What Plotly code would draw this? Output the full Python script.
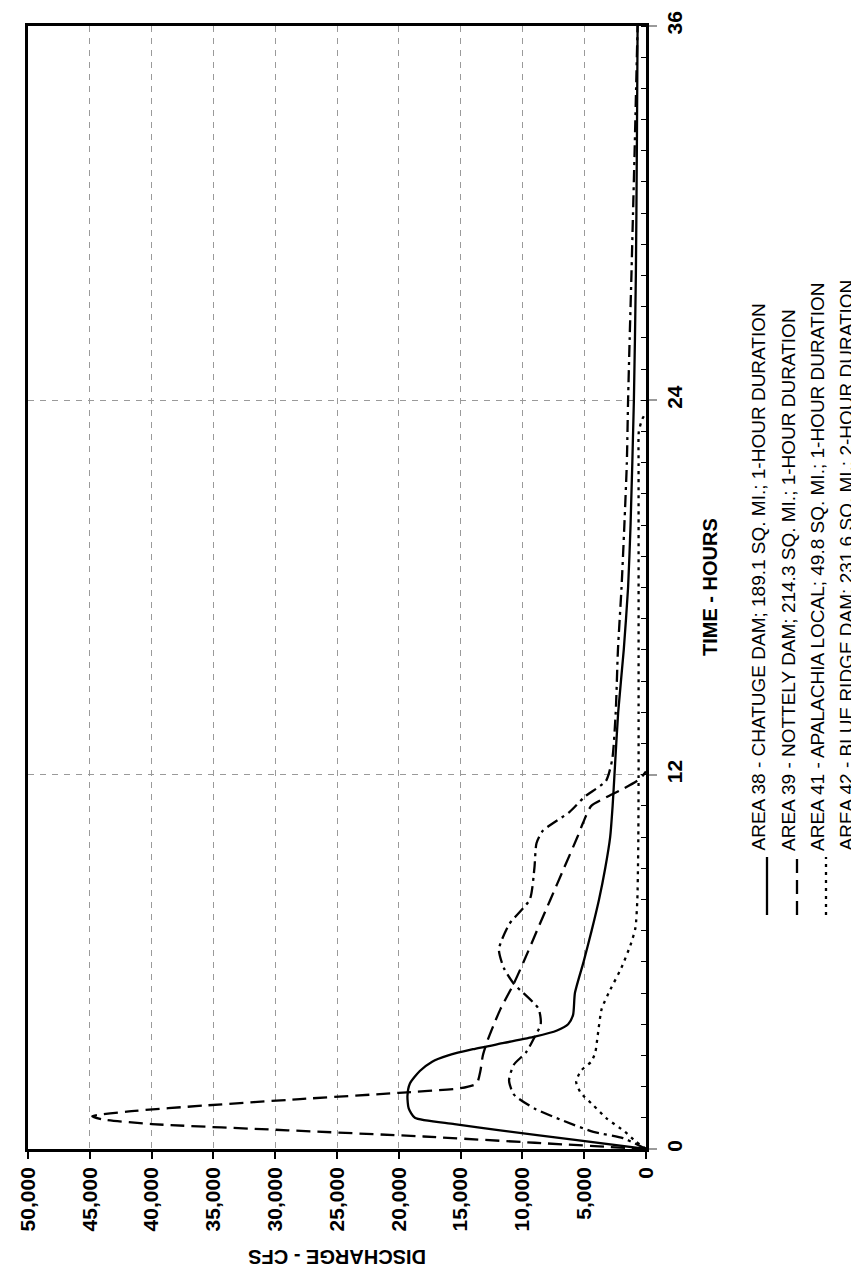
import plotly.graph_objects as go

# ---------------- data (time in hours, discharge in cfs) ----------------
t_a38 = [0, 0.3, 0.6, 0.8, 1.0, 1.3, 1.7, 2.1, 2.5, 2.8, 3.0, 3.2, 3.4, 3.6, 3.8, 4.0, 4.3, 5.0,
         6.0, 7.0, 8.0, 9.0, 10.0, 11.0, 12.0, 14.0, 16.0, 18.0, 20.0, 24.0, 28.0, 32.0, 36.0]
q_a38 = [0, 5900, 11800, 15500, 18700, 19200, 19300, 19100, 18300, 17300, 16000, 14000, 11500, 9000, 7200, 6300, 5900, 5750,
         5050, 4400, 3800, 3300, 2900, 2700, 2550, 2250, 1800, 1450, 1250, 980, 820, 740, 680]

t_a39 = [0, 0.2, 0.4, 0.6, 0.8, 0.95, 1.05, 1.2, 1.4, 1.6, 1.8, 1.95, 2.1, 2.5, 3.0, 3.5, 4.0, 4.5, 5.3,
         6.0, 7.0, 8.0, 9.0, 10.0, 10.45, 11.0, 11.27, 11.54, 11.86, 12.1]
q_a39 = [0, 9000, 18000, 29000, 40000, 44000, 44800, 42000, 35500, 28000, 20000, 15000, 13700, 13400, 13200, 12800, 12300, 11760, 10700,
         9900, 8820, 7730, 6640, 5550, 5100, 4430, 3240, 1870, 510, 0]

t_a41 = [0, 0.25, 0.55, 1.0, 1.4, 1.8, 2.15, 2.5, 2.8, 3.1, 3.6, 4.5, 5.1, 5.8, 6.6, 7.1, 8.0, 9.0, 10.0,
         12.0, 14.0, 16.0, 18.0, 20.0, 22.0, 23.0, 23.4, 23.6]
q_a41 = [0, 850, 1700, 3240, 4260, 5280, 5650, 5280, 4430, 4100, 3920, 3580, 2900, 2000, 1200, 850, 700, 650, 620,
         600, 600, 600, 600, 600, 600, 580, 300, 0]

t_a42 = [0, 0.35, 0.55, 0.9, 1.3, 1.75, 2.2, 2.7, 3.1, 3.6, 4.0, 4.5, 5.3, 5.8, 6.4, 7.2, 8.0, 9.0, 9.8, 10.2,
         10.8, 11.3, 11.8, 12.5, 14.0, 16.0, 18.0, 20.0, 22.0, 24.0, 26.0, 28.0, 30.0, 32.0, 34.0, 36.0]
q_a42 = [0, 1870, 4260, 6650, 9030, 10700, 11080, 10700, 9700, 9000, 8520, 8700, 10700, 11500, 11900, 11080, 9400, 9030, 8860, 8350,
         6200, 4940, 3240, 2730, 2450, 2270, 1980, 1750, 1550, 1450, 1320, 1180, 1050, 920, 800, 680]

series_names = [
    "AREA 38 - CHATUGE DAM; 189.1 SQ. MI.; 1-HOUR DURATION",
    "AREA 39 - NOTTELY DAM; 214.3 SQ. MI.; 1-HOUR DURATION",
    "AREA 41 - APALACHIA LOCAL; 49.8 SQ. MI.; 1-HOUR DURATION",
    "AREA 42 - BLUE RIDGE DAM; 231.6 SQ. MI.; 2-HOUR DURATION",
]

q_ticks = [0, 5000, 10000, 15000, 20000, 25000, 30000, 35000, 40000, 45000, 50000]
q_ticktext = ["0", "5,000", "10,000", "15,000", "20,000", "25,000", "30,000", "35,000", "40,000", "45,000", "50,000"]
t_ticks = [0, 12, 24, 36]
t_ticktext = ["0", "12", "24", "36"]

# ---------------- figure ----------------
W, H = 859, 1268
L, R, T, B = 20, 638, 18, 1141  # plot area in pixels

FONT = "Liberation Sans, Arial, Helvetica, sans-serif"
dashes = ["solid", "14px,7px", "3px,5px", "12px,5px,3px,5px"]

fig = go.Figure()
for tt, qq, nm, ds in zip([t_a38, t_a39, t_a41, t_a42],
                          [q_a38, q_a39, q_a41, q_a42], series_names, dashes):
    fig.add_trace(go.Scatter(x=qq, y=tt, mode="lines", name=nm,
                             line=dict(color="black", width=2.3, dash=ds,
                                       shape="spline", smoothing=0.6),
                             showlegend=False))

fig.update_layout(
    width=W, height=H,
    margin=dict(l=L, r=W - R, t=T, b=H - B, pad=0),
    paper_bgcolor="white", plot_bgcolor="white",
    font=dict(family=FONT, color="black"),
)

fig.update_xaxes(
    range=[50000, 0], tickvals=q_ticks, ticktext=q_ticktext, tickangle=-90,
    tickfont=dict(family=FONT, size=21, weight="bold", color="black"),
    ticks="outside", ticklen=7, tickwidth=1.5, tickcolor="black",
    showline=True, linewidth=2.5, linecolor="black", mirror=True,
    showgrid=True, gridcolor="#9a9a9a", griddash="6px,6px", gridwidth=1,
    zeroline=False, automargin=False,
)
fig.update_yaxes(
    range=[0, 36], side="right", tickvals=t_ticks, ticktext=t_ticktext, tickangle=-90,
    tickfont=dict(family=FONT, size=21, weight="bold", color="black"),
    ticks="outside", ticklen=8, tickwidth=1.5, tickcolor="#9a9a9a",
    minor=dict(dtick=1, tick0=0, ticks="inside", ticklen=5, tickcolor="black",
               tickwidth=1, showgrid=False),
    showline=True, linewidth=2.5, linecolor="black", mirror=True,
    showgrid=True, gridcolor="#9a9a9a", griddash="6px,6px", gridwidth=1,
    zeroline=False, automargin=False,
)

def px_x(p):
    return (p - L) / (R - L)

def px_y(p):
    return (B - p) / (B - T)

annotations = [
    dict(text="DISCHARGE - CFS", textangle=180, x=px_x(329), y=px_y(1249),
         xref="paper", yref="paper", showarrow=False, xanchor="center", yanchor="middle",
         font=dict(family=FONT, size=20, weight="bold", color="black")),
    dict(text="TIME - HOURS", textangle=-90, x=px_x(702), y=px_y(579),
         xref="paper", yref="paper", showarrow=False, xanchor="center", yanchor="middle",
         font=dict(family=FONT, size=20, weight="bold", color="black")),
]

legend_text_x = [750, 780, 809, 838]   # annotation anchors
legend_line_x = [759, 789, 818, 847]   # sample line positions
shapes = []
for nm, tx, lx, ds in zip(series_names, legend_text_x, legend_line_x, dashes):
    annotations.append(dict(text=nm, textangle=-90, x=px_x(tx), y=px_y(845),
                            xref="paper", yref="paper", showarrow=False,
                            xanchor="center", yanchor="bottom",
                            font=dict(family=FONT, size=19, color="black")))
    shapes.append(dict(type="line", xref="paper", yref="paper",
                       x0=px_x(lx), x1=px_x(lx), y0=px_y(907), y1=px_y(849),
                       line=dict(color="black", width=2.3, dash=ds)))

fig.update_layout(annotations=annotations, shapes=shapes)

fig.write_html("out.html")
